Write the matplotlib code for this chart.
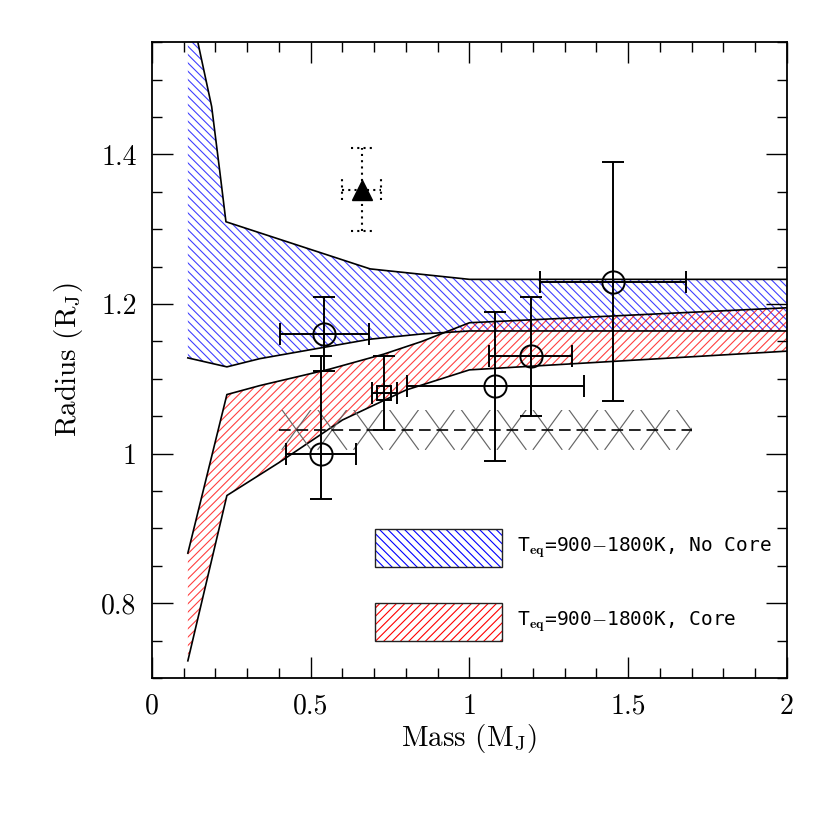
import numpy as np
import matplotlib
matplotlib.use("Agg")
import matplotlib.pyplot as plt
from matplotlib.patches import Rectangle
from matplotlib.collections import LineCollection
from matplotlib.ticker import MultipleLocator, FuncFormatter

plt.rcParams["font.family"] = "cmr10"
plt.rcParams["mathtext.fontset"] = "cm"
plt.rcParams["axes.formatter.use_mathtext"] = True
plt.rcParams["hatch.linewidth"] = 0.8

# --- model bands (mass in M_J, radius in R_J) ---
nocore_up_m = [0.113, 0.146, 0.188, 0.214, 0.233, 0.687, 1.0, 2.0]
nocore_up_r = [1.62, 1.547, 1.464, 1.376, 1.310, 1.247, 1.233, 1.233]
nocore_lo_m = [0.113, 0.236, 0.34, 0.687, 0.85, 1.0, 2.0]
nocore_lo_r = [1.128, 1.116, 1.127, 1.153, 1.160, 1.164, 1.164]

core_up_m = [0.113, 0.236, 0.34, 0.56, 0.73, 0.85, 1.0, 2.0]
core_up_r = [0.867, 1.079, 1.091, 1.113, 1.133, 1.150, 1.175, 1.195]
core_lo_m = [0.113, 0.236, 0.40, 0.60, 0.80, 1.0, 2.0]
core_lo_r = [0.723, 0.944, 0.988, 1.045, 1.085, 1.112, 1.137]

# --- observed planets ---
obs_m = [0.543, 0.532, 1.082, 1.193, 1.451]
obs_r = [1.16, 1.00, 1.09, 1.13, 1.23]
obs_merr = [0.14, 0.11, 0.28, 0.13, 0.23]
obs_rerr_lo = [0.05, 0.06, 0.10, 0.08, 0.16]
obs_rerr_hi = [0.05, 0.13, 0.10, 0.08, 0.16]

sq_m, sq_r, sq_merr, sq_rerr = [0.732], [1.081], [0.04], [0.05]

tri_m, tri_r, tri_merr, tri_rerr = [0.66], [1.353], [0.062], [0.055]

# reference radius line with its uncertainty band
ref_r = 1.032
ref_rerr = 0.027
ref_m_range = [0.4, 1.7]

fig = plt.figure(figsize=(8.3, 8.3), dpi=100)
ax = fig.add_axes([0.1831, 0.1831, 0.765, 0.766])

blue_h = (0.0, 0.0, 1.0, 0.75)
red_h = (1.0, 0.0, 0.0, 0.75)

# hatched bands
ax.fill(nocore_up_m + nocore_lo_m[::-1], nocore_up_r + nocore_lo_r[::-1],
        facecolor="none", edgecolor=blue_h, hatch="\\\\\\\\", linewidth=0)
ax.fill(core_up_m + core_lo_m[::-1], core_up_r + core_lo_r[::-1],
        facecolor="none", edgecolor=red_h, hatch="////", linewidth=0)
for mm, rr in [(nocore_up_m, nocore_up_r), (nocore_lo_m, nocore_lo_r),
               (core_up_m, core_up_r), (core_lo_m, core_lo_r)]:
    ax.plot(mm, rr, color="black", lw=1.2)

# X pattern band around the reference radius
x0, x1 = ref_m_range
top, bot = ref_r + ref_rerr, ref_r - ref_rerr
step = 0.113
half = 0.41 * step
segs = []
for c in np.arange(x0 + 0.055, x1 + step, step):
    segs.append([(c - half, top), (c + half, bot)])
    segs.append([(c - half, bot), (c + half, top)])
lc = LineCollection(segs, colors="#666666", linewidths=0.85)
ax.add_collection(lc)
clip = Rectangle((x0, bot), x1 - x0, top - bot, transform=ax.transData,
                 facecolor="none", edgecolor="none")
ax.add_patch(clip)
lc.set_clip_path(clip)
ax.plot(ref_m_range, [ref_r, ref_r], color="black", lw=1.2, ls=(0, (7, 3.5)))

# observations
ax.errorbar(obs_m, obs_r, xerr=obs_merr, yerr=[obs_rerr_lo, obs_rerr_hi],
            fmt="o", ms=16, mfc="none", mec="black", mew=1.4,
            ecolor="black", elinewidth=1.4, capsize=8, capthick=1.4)
ax.errorbar(sq_m, sq_r, xerr=sq_merr, yerr=sq_rerr,
            fmt="s", ms=10, mfc="none", mec="black", mew=1.4,
            ecolor="black", elinewidth=1.4, capsize=8, capthick=1.4)

# triangle with dotted bars and dotted caps
eb = ax.errorbar(tri_m, tri_r, xerr=tri_merr, yerr=tri_rerr, fmt="^", ms=14,
                 color="black", ecolor="black", elinewidth=1.5, capsize=0)
for col in eb[2]:
    col.set_linestyle((0, (1, 2)))
cap_dx, cap_dy = 0.032, 0.014
tm, tr = tri_m[0], tri_r[0]
ax.hlines([tr - tri_rerr[0], tr + tri_rerr[0]], tm - cap_dx, tm + cap_dx,
          color="black", lw=1.5, ls=(0, (1, 2)))
ax.vlines([tm - tri_merr[0], tm + tri_merr[0]], tr - cap_dy, tr + cap_dy,
          color="black", lw=1.5, ls=(0, (1, 2)))

# legend boxes
for y0, hc, hatch, lab in [(0.1745, "blue", "\\\\\\\\", "No Core"),
                           (0.058, "red", "////", "Core")]:
    ax.add_patch(Rectangle((0.351, y0), 0.2, 0.06, transform=ax.transAxes,
                           facecolor="none", edgecolor=hc, hatch=hatch, lw=0))
    ax.add_patch(Rectangle((0.351, y0), 0.2, 0.06, transform=ax.transAxes,
                           facecolor="none", edgecolor="#222222", lw=1.0))
    ax.text(0.575, y0 + 0.03, r"T$_{\bf eq}$=900$-$1800K, " + lab,
            transform=ax.transAxes, va="center", ha="left",
            family="DejaVu Sans Mono", fontsize=14)

ax.set_xlim(0, 2)
ax.set_ylim(0.7, 1.55)
ax.xaxis.set_major_locator(MultipleLocator(0.5))
ax.xaxis.set_minor_locator(MultipleLocator(0.1))
ax.yaxis.set_major_locator(MultipleLocator(0.2))
ax.yaxis.set_minor_locator(MultipleLocator(0.05))
fmt = FuncFormatter(lambda v, p: "%g" % round(v, 3))
ax.xaxis.set_major_formatter(fmt)
ax.yaxis.set_major_formatter(fmt)
ax.tick_params(which="both", direction="in", top=True, right=True,
               labelsize=20, pad=11)
ax.tick_params(which="major", length=15, width=1.0)
ax.tick_params(which="minor", length=7.5, width=1.0)
for s in ax.spines.values():
    s.set_linewidth(1.3)

ax.set_xlabel(r"Mass (M$_{\rm J}$)", fontsize=21, labelpad=2)
ax.set_ylabel(r"Radius (R$_{\rm J}$)", fontsize=21, labelpad=12)

plt.savefig("out.png", dpi=100)
